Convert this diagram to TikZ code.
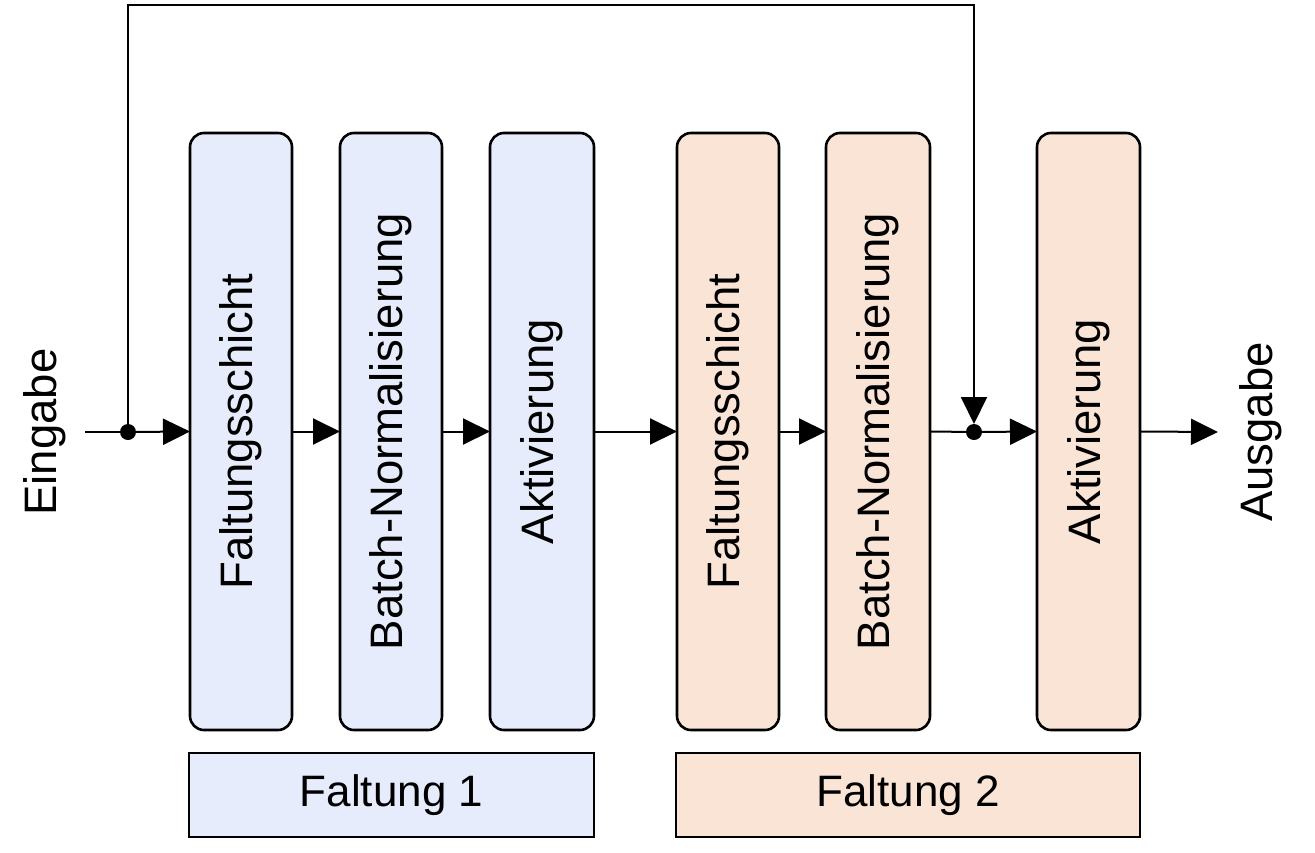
\documentclass[tikz,border=0pt]{standalone}
\usepackage{fontspec}
\setmainfont{Liberation Sans}
\usetikzlibrary{arrows.meta}
\definecolor{blueF}{RGB}{230,236,251}
\definecolor{peachF}{RGB}{249,228,214}
\tikzset{
  layerbox/.style={draw=black, line width=2.6pt, rounded corners=14pt, inner sep=0pt, outer sep=0pt,
    minimum width=102pt, minimum height=597pt, font=\fontsize{45.5}{50}\selectfont},
  groupbox/.style={draw=black, line width=2.6pt, inner sep=0pt, outer sep=0pt,
    minimum height=84pt, font=\fontsize{44}{50}\selectfont},
  conn/.style={line width=2pt, -{Triangle[length=27pt,width=26pt]}},
  plain/.style={line width=2pt},
  junction/.style={circle, fill=black, inner sep=0pt, minimum size=16pt, outer sep=0pt},
  iolabel/.style={inner sep=0pt, font=\fontsize{45.5}{50}\selectfont}
}
\begin{document}
\begin{tikzpicture}[x=1pt,y=-1pt]
\useasboundingbox (0,0) rectangle (1315,852);
% layer boxes
\node[layerbox, fill=blueF, minimum width=102pt] (b1) at (241,431.5) {\rotatebox{90}{Faltungsschicht}};
\node[layerbox, fill=blueF, minimum width=102pt] (b2) at (391,431.5) {\rotatebox{90}{Batch-Normalisierung}};
\node[layerbox, fill=blueF, minimum width=104pt] (b3) at (542,431.5) {\rotatebox{90}{Aktivierung}};
\node[layerbox, fill=peachF, minimum width=102pt] (b4) at (728,431.5) {\rotatebox{90}{Faltungsschicht}};
\node[layerbox, fill=peachF, minimum width=104pt] (b5) at (878,431.5) {\rotatebox{90}{Batch-Normalisierung}};
\node[layerbox, fill=peachF, minimum width=103pt] (b6) at (1088.5,431.5) {\rotatebox{90}{Aktivierung}};
% group boxes
\node[groupbox, fill=blueF, minimum width=405pt] (g1) at (391.5,795) {Faltung 1};
\node[groupbox, fill=peachF, minimum width=464pt] (g2) at (908,795) {Faltung 2};
% io labels
\node[iolabel] (ein) at (45,432) {\rotatebox{90}{Eingabe}};
\node[iolabel] (aus) at (1261,432) {\rotatebox{90}{Ausgabe}};
% coordinates
\coordinate (start) at (85,432);
\coordinate (endp) at (1218,432);
\node[junction] (d1) at (128,432) {};
\node[junction] (d2) at (974,432) {};
\coordinate (tl) at (128,5);
\coordinate (tr) at (974,5);
% connectors
\draw[plain] (start) -- (d1);
\draw[conn] (d1) -- (b1.west);
\draw[conn] (b1.east) -- (b2.west);
\draw[conn] (b2.east) -- (b3.west);
\draw[conn] (b3.east) -- (b4.west);
\draw[conn] (b4.east) -- (b5.west);
\draw[plain] (b5.east) -- (d2);
\draw[conn] (d2) -- (b6.west);
\draw[conn] (b6.east) -- (endp);
\draw[conn, line join=miter] (d1.center) -- (tl) -- (tr) -- (d2.north);
\end{tikzpicture}
\end{document}
